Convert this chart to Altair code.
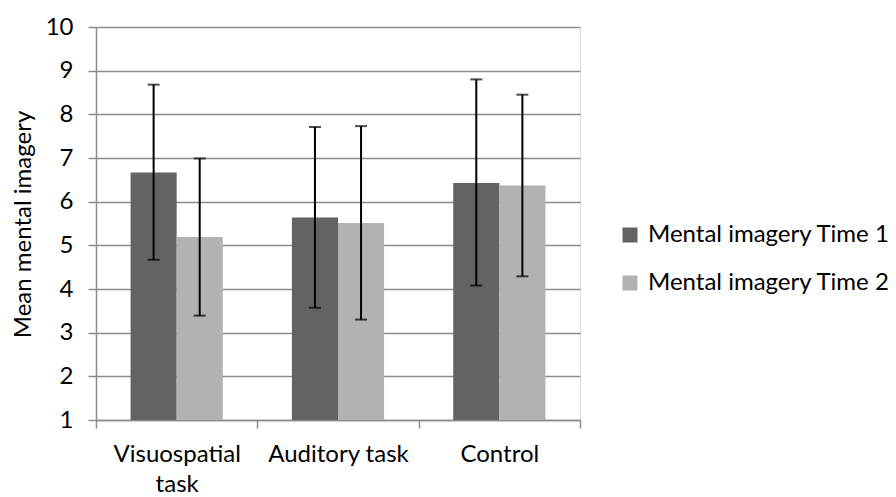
import altair as alt
import pandas as pd

categories = ["Visuospatial task", "Auditory task", "Control"]
series = ["Mental imagery Time 1", "Mental imagery Time 2"]
time1 = [6.67, 5.64, 6.43]
time2 = [5.19, 5.51, 6.37]
time1_hi = [8.68, 7.71, 8.80]
time1_lo = [4.67, 3.57, 4.08]
time2_hi = [6.99, 7.73, 8.45]
time2_lo = [3.39, 3.30, 4.29]
colors = ["#636363", "#b2b2b2"]

rows = []
for i, c in enumerate(categories):
    rows.append({"cat": c, "series": series[0], "value": time1[i], "hi": time1_hi[i], "lo": time1_lo[i]})
    rows.append({"cat": c, "series": series[1], "value": time2[i], "hi": time2_hi[i], "lo": time2_lo[i]})
df = pd.DataFrame(rows)

FONT = "Lato"
FS = 24
GRID = "#8c8c8c"

x = alt.X("cat:N", sort=categories, title=None,
          scale=alt.Scale(paddingInner=0, paddingOuter=0),
          axis=alt.Axis(tickBand="extent", labelAngle=0, labelFontSize=FS, labelFont=FONT,
                        labelColor="black", domainColor=GRID, domainWidth=1.5,
                        tickColor=GRID, tickWidth=1.5, tickSize=8, labelPadding=14,
                        labelLineHeight=30, grid=False,
                        labelExpr="datum.label == 'Visuospatial task' ? ['Visuospatial', 'task'] : datum.label"))
xo = alt.XOffset("series:N", sort=series, scale=alt.Scale(paddingInner=0, paddingOuter=0.75))
yscale = alt.Scale(domain=[1, 10], zero=False, nice=False)

bars = alt.Chart(df).mark_bar().encode(
    x=x, xOffset=xo,
    y=alt.Y("value:Q", scale=yscale,
            axis=alt.Axis(values=list(range(1, 11)), title="Mean mental imagery",
                          titleFont=FONT, titleFontSize=FS, titleFontWeight="normal",
                          titleColor="black", titleX=-73, titleY=197, titleAngle=270,
                          titleAlign="center", titleBaseline="middle",
                          labelFont=FONT, labelFontSize=FS, labelColor="black",
                          labelPadding=15, grid=True, gridColor=GRID, gridWidth=1.5,
                          domainColor=GRID, domainWidth=1.5, tickColor=GRID,
                          tickWidth=1.5, tickSize=8)),
    y2=alt.datum(1),
    color=alt.Color("series:N", sort=series,
                    scale=alt.Scale(domain=series, range=colors),
                    legend=alt.Legend(title=None, orient="none", legendX=522, legendY=196,
                                      symbolType="square", symbolSize=225,
                                      symbolStrokeWidth=0, labelFont=FONT,
                                      labelFontSize=FS, labelColor="black",
                                      labelOffset=6, rowPadding=24, labelLimit=400)),
)

rules = alt.Chart(df).mark_rule(color="black", strokeWidth=2).encode(
    x=x, xOffset=xo, y=alt.Y("lo:Q", scale=yscale), y2="hi:Q")
caps_hi = alt.Chart(df).mark_tick(color="black", thickness=2, size=12).encode(
    x=x, xOffset=xo, y=alt.Y("hi:Q", scale=yscale))
caps_lo = alt.Chart(df).mark_tick(color="black", thickness=2, size=12).encode(
    x=x, xOffset=xo, y=alt.Y("lo:Q", scale=yscale))

chart = alt.layer(bars, rules, caps_hi, caps_lo).properties(
    width=484, height=393,
    autosize=alt.AutoSizeParams(type="none"),
    padding={"left": 88, "top": 19, "right": 308, "bottom": 77},
).configure_view(stroke=None).configure(background="white")

chart.save("out.html", embed_options={"renderer": "svg", "actions": False})
